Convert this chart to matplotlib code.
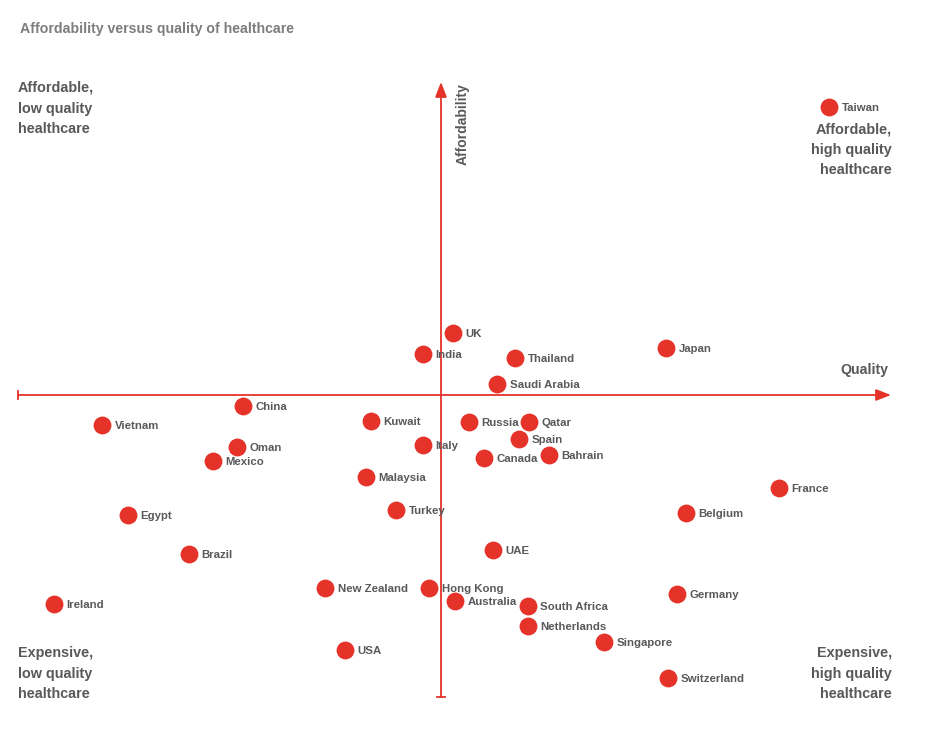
import matplotlib.pyplot as plt

# Values (quality on x, affordability on y, origin at axis cross)
countries = ["Taiwan", "UK", "India", "Thailand", "Japan", "Saudi Arabia", "China",
             "Vietnam", "Kuwait", "Russia", "Qatar", "Spain", "Italy", "Oman", "Mexico",
             "Canada", "Bahrain", "Malaysia", "France", "Egypt", "Turkey", "Belgium",
             "UAE", "Brazil", "New Zealand", "Hong Kong", "Australia", "Ireland",
             "Germany", "South Africa", "Netherlands", "Singapore", "USA", "Switzerland"]
quality = [38.8, 1.2, -1.8, 7.4, 22.5, 5.6, -19.8, -33.9, -7.0, 2.8, 8.8, 7.8, -1.8,
           -20.4, -22.8, 4.3, 10.8, -7.5, 33.8, -31.3, -4.5, 24.5, 5.2, -25.2, -11.6,
           -1.2, 1.4, -38.7, 23.6, 8.7, 8.7, 16.3, -9.6, 22.7]
affordability = [28.8, 6.2, 4.1, 3.7, 4.7, 1.1, -1.1, -3.0, -2.6, -2.7, -2.7, -4.4,
                 -5.0, -5.2, -6.6, -6.3, -6.0, -8.2, -9.3, -12.0, -11.5, -11.8, -15.5,
                 -15.9, -19.3, -19.3, -20.6, -20.9, -19.9, -21.1, -23.1, -24.7, -25.5,
                 -28.3]

red = "#e5332a"
grey = "#58595b"
font = "Liberation Sans"

fig = plt.figure(figsize=(9.4, 7.35), dpi=100)
ax = fig.add_axes([0, 0, 1, 1])
ax.set_xlim(-44.1, 49.9)
ax.set_ylim(-34.0, 39.5)
ax.axis("off")

# axes as arrows
ax.annotate("", xy=(45.0, 0), xytext=(-42.3, 0),
            arrowprops=dict(arrowstyle="-|>,head_length=0.9,head_width=0.35",
                        color=red, lw=1.3, shrinkA=0, shrinkB=0))
ax.annotate("", xy=(0, 31.3), xytext=(0, -30.2),
            arrowprops=dict(arrowstyle="-|>,head_length=0.9,head_width=0.35",
                        color=red, lw=1.3, shrinkA=0, shrinkB=0))
ax.plot([-42.3, -42.3], [-0.4, 0.4], color=red, lw=1.3)
ax.plot([-0.4, 0.4], [-30.2, -30.2], color=red, lw=1.3)

ax.scatter(quality, affordability, s=165, color=red, zorder=3, linewidths=0)
for name, x, y in zip(countries, quality, affordability):
    ax.annotate(name, (x, y), xytext=(9, -1), textcoords="offset points",
                ha="left", va="center", fontsize=8.2, fontweight="bold",
                color=grey, family=font, zorder=4)

ax.text(44.7, 2.5, "Quality", ha="right", va="center", fontsize=10.2,
        fontweight="bold", color=grey, family=font)
ax.text(2.2, 31.2, "Affordability", ha="center", va="top", rotation=90,
        fontsize=10, fontweight="bold", color=grey, family=font)

quad = dict(fontsize=10.4, fontweight="bold", color=grey, family=font,
            linespacing=1.6)
ax.text(-42.3, 31.4, "Affordable,\nlow quality\nhealthcare", ha="left", va="top", **quad)
ax.text(45.1, 27.3, "Affordable,\nhigh quality\nhealthcare", ha="right", va="top", **quad)
ax.text(-42.3, -25.1, "Expensive,\nlow quality\nhealthcare", ha="left", va="top", **quad)
ax.text(45.1, -25.1, "Expensive,\nhigh quality\nhealthcare", ha="right", va="top", **quad)

fig.text(0.021, 0.961, "Affordability versus quality of healthcare", ha="left",
         va="center", fontsize=10.2, fontweight="bold", color="#7d7d7d", family=font)

fig.savefig("out.png", dpi=100)
